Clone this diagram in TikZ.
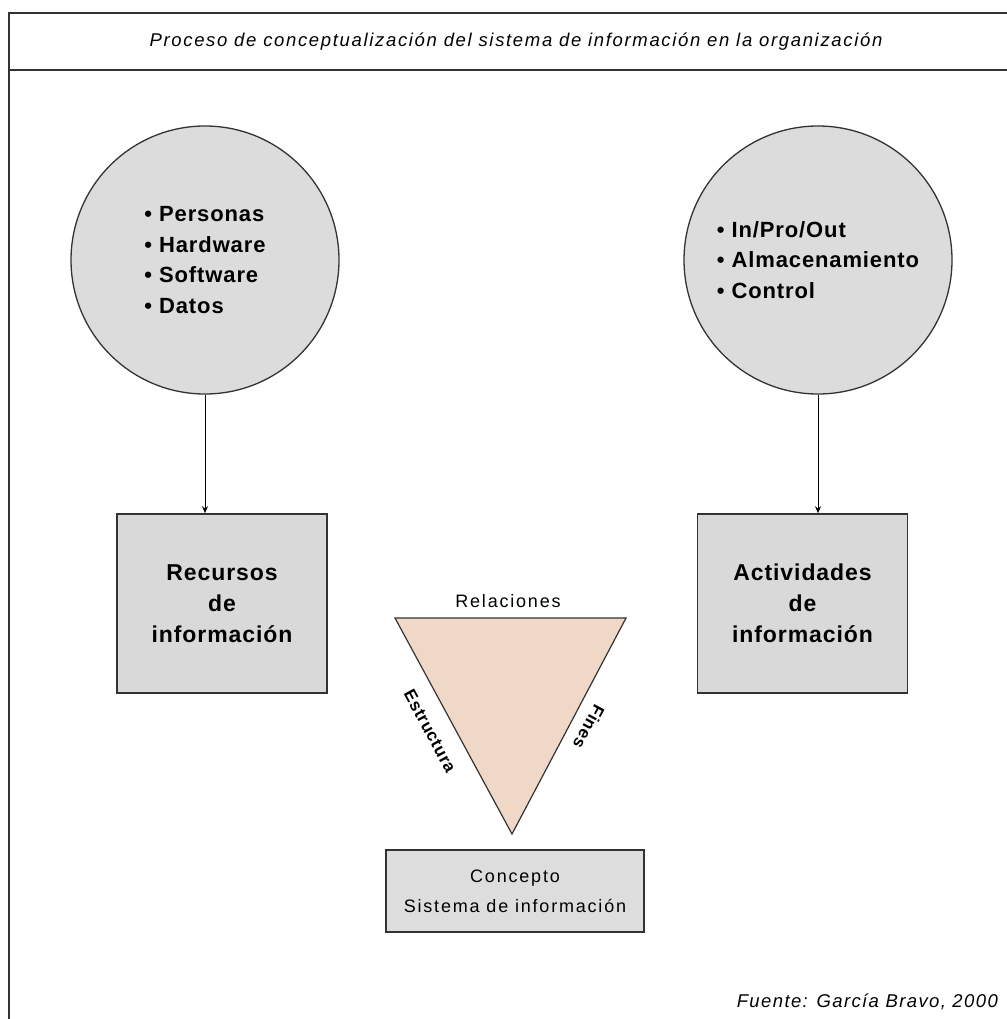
\documentclass[tikz,border=0pt]{standalone}
\usepackage{fontspec}
\setmainfont{Liberation Sans}[LetterSpace=4]
\newfontfamily\titlefont{Liberation Sans}[LetterSpace=9]
\newfontfamily\notefont{Liberation Sans}[LetterSpace=7.5]
\newfontfamily\loosefont{Liberation Sans}[LetterSpace=10]
\usetikzlibrary{arrows.meta}
\definecolor{bubblefill}{HTML}{DCDCDC}
\definecolor{boxfill}{HTML}{D9D9D9}
\definecolor{conceptfill}{HTML}{DDDDDD}
\definecolor{wedgefill}{HTML}{F0D8C8}
\definecolor{ink}{HTML}{333333}
\begin{document}
\begin{tikzpicture}[x=1pt,y=-1pt,
  frameline/.style={draw=ink, line width=1.8pt},
  bubble/.style={circle, draw=ink, line width=1.3pt, fill=bubblefill,
    minimum size=268pt, inner sep=0pt, align=left,
    font=\fontsize{22}{30.5}\selectfont\bfseries},
  infobox/.style={rectangle, draw=ink, line width=1.6pt, fill=boxfill,
    minimum width=210pt, minimum height=179pt, inner sep=0pt, align=center,
    font=\fontsize{23}{31}\selectfont\bfseries},
  conceptbox/.style={rectangle, draw=ink, line width=1.4pt, fill=conceptfill,
    minimum width=258pt, minimum height=82pt, inner sep=0pt, align=center,
    font=\loosefont\fontsize{18}{30}\selectfont},
  link/.style={draw=black, line width=1pt, -{Stealth[length=7pt,width=6pt]}},
  sidelabel/.style={font=\fontsize{17}{20}\selectfont\bfseries, inner sep=0pt},
  plainlabel/.style={font=\loosefont\fontsize{18}{20}\selectfont, inner sep=0pt},
  titlelabel/.style={font=\titlefont\fontsize{18.5}{20}\selectfont\itshape, inner sep=0pt},
  notelabel/.style={font=\notefont\fontsize{18.5}{20}\selectfont\itshape, inner sep=0pt}]

\useasboundingbox (0,0) rectangle (1006,1019);

% outer frame and title band
\draw[frameline] (1010,13) -| (9,1025);
\draw[frameline] (9,70) -- (1010,70);
\node[titlelabel] (title) at (516,42)
  {Proceso de conceptualización del sistema de información en la organización};

% resource and activity bubbles
\node[bubble] (res) at (205,260)
  {• Personas\\• Hardware\\• Software\\• Datos};
\node[bubble] (act) at (818,260)
  {• In/Pro/Out\\• Almacenamiento\\• Control};

% information boxes
\node[infobox] (rec) at (222,603.5) {Recursos\\de\\información};
\node[infobox] (acts) at (802.5,603.5) {Actividades\\de\\información};

\draw[link] (res.south) -- (res.south |- rec.north);
\draw[link] (act.south) -- (act.south |- acts.north);

% relations wedge
\coordinate (wl) at (395,618);
\coordinate (wr) at (626,618);
\coordinate (wb) at (512,834);
\filldraw[draw=ink, line width=1.2pt, fill=wedgefill] (wl) -- (wr) -- (wb) -- cycle;
\node[plainlabel] (rel) at (508,601) {Relaciones};
\node[sidelabel, rotate=-61.6] (est) at (430,731) {Estructura};
\node[sidelabel, rotate=-118.4] (fin) at (589,727) {Fines};

% resulting concept
\node[conceptbox] (con) at (515,891) {Concepto\\Sistema de información};

% source note
\node[notelabel, anchor=east] (src) at (998,1002) {Fuente: García Bravo, 2000};
\end{tikzpicture}
\end{document}
